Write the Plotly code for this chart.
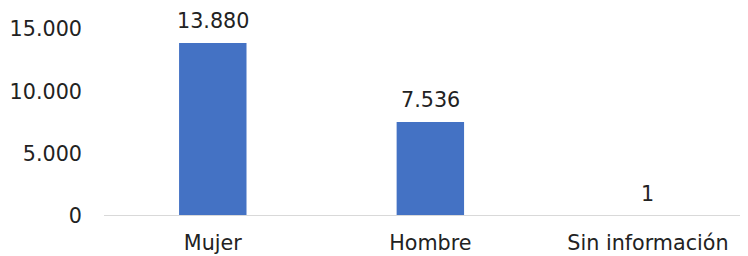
import plotly.graph_objects as go

categories = ["Mujer", "Hombre", "Sin información"]
values = [13880, 7536, 1]
y_ticks = [0, 5000, 10000, 15000]
y_tick_labels = ["0", "5.000", "10.000", "15.000"]

def fmt(v):
    return f"{v:,}".replace(",", ".")

FONT = "DejaVu Sans"
FS = 20.7
TXT = "#222222"

fig = go.Figure()
fig.add_trace(go.Bar(
    x=categories, y=values, width=0.31,
    marker=dict(color="#4472C4", line=dict(width=0)),
    hoverinfo="skip",
))
for c, v in zip(categories, values):
    fig.add_annotation(x=c, y=v, text=fmt(v), showarrow=False,
                       yanchor="bottom", yshift=8,
                       font=dict(family=FONT, size=FS, color=TXT))

fig.add_shape(type="line", xref="paper", yref="y", x0=0, x1=1, y0=0, y1=0,
              line=dict(color="#d9d9d9", width=2), layer="above")

fig.update_layout(
    width=740, height=248,
    margin=dict(l=96, r=0, t=2, b=40),
    paper_bgcolor="white", plot_bgcolor="white",
    showlegend=False,
    font=dict(family=FONT, size=FS, color=TXT),
)
fig.update_xaxes(
    range=[-0.5, 2.46], showgrid=False, showline=False, zeroline=False,
    ticks="", tickfont=dict(size=FS), ticklabelstandoff=12,
)
fig.update_yaxes(
    range=[0, 16520], showgrid=False, zeroline=False, showline=False,
    tickvals=y_ticks, ticktext=y_tick_labels, ticks="",
    tickfont=dict(size=FS), ticklabelstandoff=21,
)
fig.write_html("out.html")
